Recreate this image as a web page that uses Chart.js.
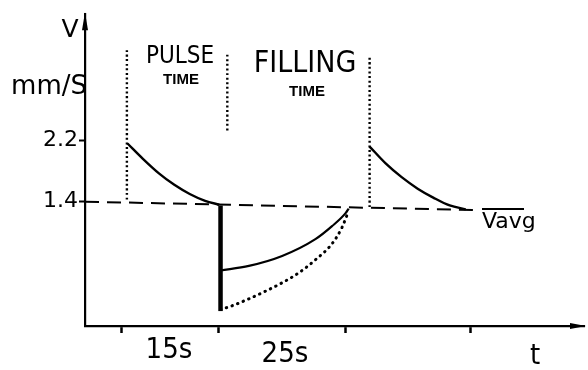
<!DOCTYPE html>
<html>
<head>
<meta charset="utf-8">
<script src="https://cdn.jsdelivr.net/npm/chart.js@4.4.1/dist/chart.umd.min.js"></script>
<style>
  html, body { margin: 0; padding: 0; background: #fff; }
  #wrap { width: 588px; height: 370px; }
</style>
</head>
<body>
<div id="wrap"><canvas id="pulseChart" width="588" height="370"></canvas></div>
<script>
// time (s) and flow velocity (mm/s)
const pulseT = [6.9, 9.4, 12.0, 14.5, 17.0, 19.5, 21.8];
const pulseV = [2.16, 1.96, 1.77, 1.62, 1.50, 1.41, 1.36];

const fillSolidT = [22.0, 26.6, 32.0, 37.4, 40.1, 42.3, 42.8];
const fillSolidV = [0.50, 0.56, 0.69, 0.91, 1.08, 1.25, 1.31];

const fillDotT = [22.0, 23.9, 26.6, 29.3, 32.0, 34.7, 37.4, 40.1, 41.7, 42.8];
const fillDotV = [-0.01, 0.04, 0.13, 0.23, 0.34, 0.47, 0.64, 0.85, 1.06, 1.28];

const pulse2T = [46.2, 48.8, 51.4, 54.0, 56.6, 59.2, 61.8];
const pulse2V = [2.12, 1.90, 1.72, 1.57, 1.45, 1.35, 1.30];

const avgT = [0, 63.5];
const avgV = [1.40, 1.29];

const dropT = [22.0, 22.0];
const dropV = [1.35, -0.03];

// dotted markers for pulse / filling periods
const markStartT = [6.8, 6.8];
const markStartV = [3.38, 1.40];
const markMidT = [23.1, 23.1];
const markMidV = [3.32, 2.30];
const markEndT = [46.2, 46.2];
const markEndV = [3.28, 1.32];

const yTicks = [1.4, 2.2];
const xTicks = [5.9, 21.6, 42.3, 62.6];

function pts(xs, ys) {
    return xs.map((x, i) => ({ x: x, y: ys[i] }));
}

const narrow = '"Liberation Sans Narrow", "DejaVu Sans Condensed", "Liberation Sans", sans-serif';
const plain = '"DejaVu Sans", sans-serif';

const notes = [
    { text: 'V', x: 70, y: 37, font: '25px ' + plain, align: 'center' },
    { text: 'mm/S', x: 87, y: 94, font: '26px ' + plain, align: 'right' },
    { text: 'PULSE', x: 180, y: 63, font: '24px ' + narrow, align: 'center' },
    { text: 'TIME', x: 181, y: 84, font: 'bold 15px "Liberation Sans", sans-serif', align: 'center' },
    { text: 'FILLING', x: 305, y: 72, font: '30px ' + narrow, align: 'center' },
    { text: 'TIME', x: 307, y: 96, font: 'bold 15px "Liberation Sans", sans-serif', align: 'center' },
    { text: 'Vavg', x: 482, y: 228, font: '22px ' + plain, align: 'left' },
    { text: '15s', x: 169, y: 358, font: '29px ' + narrow, align: 'center' },
    { text: '25s', x: 285, y: 362, font: '29px ' + narrow, align: 'center' },
    { text: 't', x: 535, y: 364, font: '29px ' + narrow, align: 'center' }
];

const sketchText = {
    id: 'sketchText',
    afterDraw(chart) {
        const ctx = chart.ctx;
        const a = chart.chartArea;
        ctx.save();
        ctx.fillStyle = '#000';
        ctx.strokeStyle = '#000';
        ctx.textBaseline = 'alphabetic';
        notes.forEach(n => {
            ctx.font = n.font;
            ctx.textAlign = n.align;
            ctx.fillText(n.text, n.x, n.y);
        });
        // bar over Vavg
        ctx.lineWidth = 1.8;
        ctx.beginPath();
        ctx.moveTo(482, 209);
        ctx.lineTo(524, 209);
        ctx.stroke();
        // axis arrow heads
        ctx.beginPath();
        ctx.moveTo(a.left, a.top - 2);
        ctx.lineTo(a.left - 3, a.top + 16);
        ctx.lineTo(a.left + 3, a.top + 16);
        ctx.closePath();
        ctx.fill();
        ctx.beginPath();
        ctx.moveTo(a.right + 2, a.bottom);
        ctx.lineTo(a.right - 14, a.bottom - 3);
        ctx.lineTo(a.right - 14, a.bottom + 3);
        ctx.closePath();
        ctx.fill();
        ctx.restore();
    }
};

document.addEventListener('DOMContentLoaded', () => {
    const ctx = document.getElementById('pulseChart').getContext('2d');

    const line = (data, extra) => Object.assign({
        data: data,
        borderColor: '#000',
        borderWidth: 2,
        pointRadius: 0,
        fill: false,
        cubicInterpolationMode: 'monotone'
    }, extra);

    const dots = { borderWidth: 2.4, borderDash: [2, 2.6] };

    new Chart(ctx, {
        type: 'line',
        data: {
            datasets: [
                line(pts(avgT, avgV), { borderWidth: 2, borderDash: [14, 8] }),
                line(pts(markStartT, markStartV), dots),
                line(pts(markMidT, markMidV), dots),
                line(pts(markEndT, markEndV), dots),
                line(pts(pulseT, pulseV), { borderWidth: 2.4 }),
                line(pts(dropT, dropV), { borderWidth: 4.5 }),
                line(pts(fillSolidT, fillSolidV), { borderWidth: 2.2 }),
                line(pts(fillDotT, fillDotV), { borderWidth: 3, borderDash: [0.5, 5.5], borderCapStyle: 'round' }),
                line(pts(pulse2T, pulse2V), { borderWidth: 2.4 })
            ]
        },
        options: {
            responsive: false,
            devicePixelRatio: 1,
            animation: false,
            clip: false,
            layout: { padding: { top: 5, right: 4, left: 0, bottom: 0 } },
            plugins: {
                legend: { display: false },
                tooltip: { enabled: false }
            },
            scales: {
                x: {
                    type: 'linear',
                    min: 0,
                    max: 81,
                    afterBuildTicks: scale => { scale.ticks = xTicks.map(v => ({ value: v })); },
                    afterFit: scale => { scale.height = 44; },
                    ticks: { callback: () => '' },
                    grid: { drawOnChartArea: false, tickLength: 7, tickWidth: 2.5, tickColor: '#000' },
                    border: { color: '#000', width: 2.2 }
                },
                y: {
                    min: -0.225,
                    max: 3.85,
                    afterBuildTicks: scale => { scale.ticks = yTicks.map(v => ({ value: v })); },
                    afterFit: scale => { scale.width = 85; },
                    ticks: {
                        callback: v => v.toFixed(1),
                        color: '#000',
                        padding: 1,
                        font: { family: 'DejaVu Sans', size: 22 }
                    },
                    grid: { drawOnChartArea: false, tickLength: 6, tickWidth: 2, tickColor: '#000' },
                    border: { color: '#000', width: 2.2 }
                }
            }
        },
        plugins: [sketchText]
    });
});
</script>
</body>
</html>
